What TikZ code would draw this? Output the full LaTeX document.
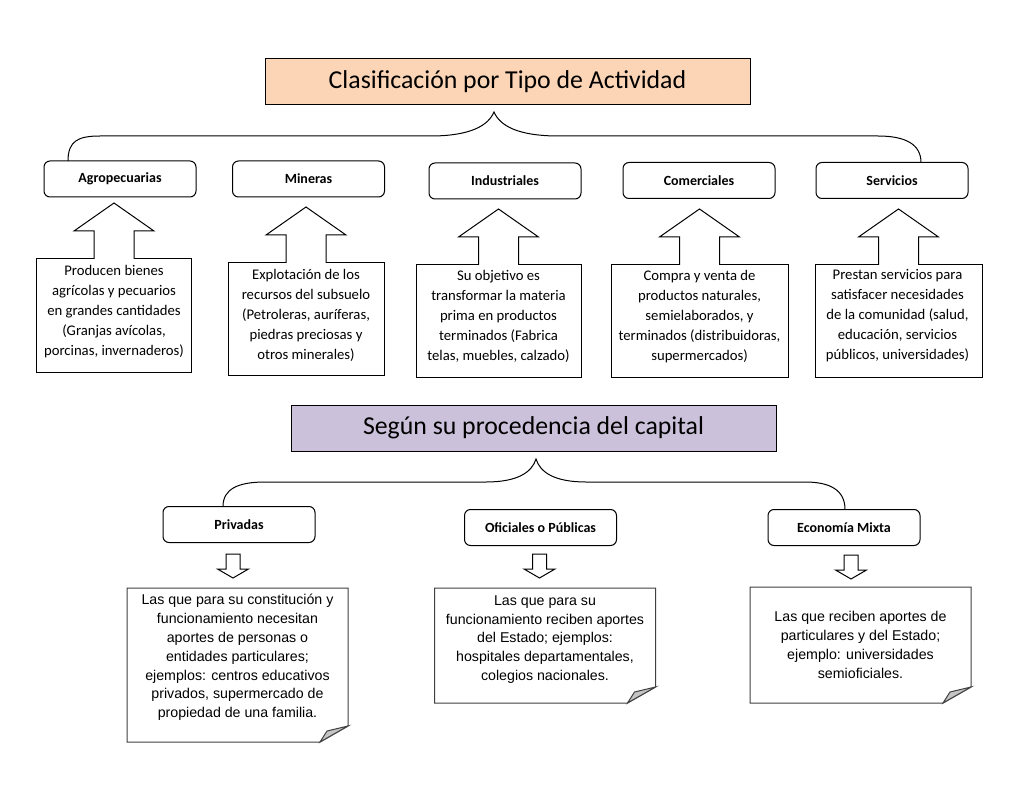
\documentclass[tikz,border=0pt]{standalone}
\usepackage{fontspec}
\setmainfont{Carlito}
\newfontfamily\arialf{Liberation Sans}
\usetikzlibrary{calc}
\definecolor{peach}{HTML}{FBD5B5}
\definecolor{lavender}{HTML}{CCC1DA}
\definecolor{foldgray}{HTML}{C4C4C4}
\newcommand\myuparrow[1]{%
  \draw[blk] ($(#1.north)+(20,0)$) -- ++(0,-28) -- ++(20,0) -- ++(-40,-28) -- ++(-40,28) -- ++(20,0) -- ++(0,28);}
\newcommand\mydownarrow[1]{%
  \draw[blk] (#1) ++(-7,0) -- ++(14,0) -- ++(0,15) -- ++(8.5,0) -- ++(-15.5,9) -- ++(-15.5,-9) -- ++(8.5,0) -- cycle;}
\newcommand\mynote[1]{%
  \draw[noteline] (#1.north west) -- (#1.north east) -- ($(#1.south east)+(0,-16)$) -- ($(#1.south east)+(-28,0)$) -- (#1.south west) -- cycle;
  \filldraw[noteline, fill=foldgray] ($(#1.south east)+(0,-16)$) -- ($(#1.south east)+(-21,-11)$) -- ($(#1.south east)+(-28,0)$) -- cycle;}
\begin{document}
\begin{tikzpicture}[x=1pt,y=-1pt,
  every node/.style={inner sep=0pt, outer sep=0pt},
  titlebox/.style={draw=black, line width=1pt, minimum width=485pt, minimum height=46pt, font=\fontsize{25.8}{29}\selectfont},
  catbox/.style={draw=black, line width=1pt, rounded corners=6pt, minimum width=152pt, minimum height=36pt, font=\fontsize{14}{16}\selectfont\bfseries},
  descbox/.style={draw=black, line width=1pt},
  desctext/.style={align=center, font=\fontsize{14.7}{20}\selectfont},
  notebox/.style={minimum width=221pt},
  notetext/.style={align=center, font=\arialf\fontsize{14.2}{18.8}\selectfont},
  noteline/.style={draw=black!75, line width=1pt, line join=miter},
  blk/.style={draw=black, line width=1pt, fill=white, line join=miter},
  brace/.style={draw=black, line width=1pt},
]
\useasboundingbox (0,0) rectangle (1024,791);
\fill[white] (0,0) rectangle (1024,791);

% ---------- first section ----------
\node[titlebox, fill=peach] (t1) at (507.5,82) {Clasificación por Tipo de Actividad};

\node[catbox] (agro) at (120,179) {Agropecuarias};
\node[catbox] (mine) at (308.5,179) {Mineras};
\node[catbox] (indu) at (505,181) {Industriales};
\node[catbox] (come) at (699,180.5) {Comerciales};
\node[catbox] (serv) at (892,180.5) {Servicios};

\coordinate (b1l) at ($(agro.north west)+(24,0)$);
\coordinate (b1r) at ($(serv.north east)+(-47,0)$);
\coordinate (b1t) at ($(t1.south)+(-13.5,7)$);
\draw[brace] (b1l) .. controls (68,141) and (78,136) .. (100,136) -- (433,136)
  .. controls (470,135.5) and (488,126) .. (b1t)
  .. controls (500,126) and (518,135.5) .. (556,136) -- (878,136)
  .. controls (905,136) and (921,144) .. (b1r);

\node[descbox, minimum width=155pt, minimum height=113pt] (dagro) at (114,315.5) {};
\node[descbox, minimum width=156pt, minimum height=112pt] (dmine) at (306,319) {};
\node[descbox, minimum width=165pt, minimum height=112pt] (dindu) at (498.5,321) {};
\node[descbox, minimum width=177pt, minimum height=112pt] (dcome) at (699.5,321) {};
\node[descbox, minimum width=167pt, minimum height=112pt] (dserv) at (898.5,321) {};

\node[desctext] (tagro) at ($(dagro)+(0,-4)$) {Producen bienes\\agrícolas y pecuarios\\en grandes cantidades\\(Granjas avícolas,\\porcinas, invernaderos)};
\node[desctext] (tmine) at ($(dmine)+(0,-4)$) {Explotación de los\\recursos del subsuelo\\(Petroleras, auríferas,\\piedras preciosas y\\otros minerales)};
\node[desctext] (tindu) at ($(dindu)+(0,-5)$) {Su objetivo es\\transformar la materia\\prima en productos\\terminados (Fabrica\\telas, muebles, calzado)};
\node[desctext] (tcome) at ($(dcome)+(0,-4)$) {Compra y venta de\\productos naturales,\\semielaborados, y\\terminados (distribuidoras,\\supermercados)};
\node[desctext] (tserv) at ($(dserv)+(-1,-5)$) {Prestan servicios para\\satisfacer necesidades\\de la comunidad (salud,\\educación, servicios\\públicos, universidades)};

\myuparrow{dagro}
\myuparrow{dmine}
\myuparrow{dindu}
\myuparrow{dcome}
\myuparrow{dserv}

% ---------- second section ----------
\node[titlebox, fill=lavender] (t2) at (533.5,428) {Según su procedencia del capital};

\node[catbox] (priv) at (239,524.5) {Privadas};
\node[catbox] (ofic) at (540.5,527.5) {Oficiales o Públicas};
\node[catbox] (econ) at (844,527.5) {Economía Mixta};

\coordinate (b2l) at ($(priv.north west)+(60,0)$);
\coordinate (b2r) at ($(econ.north east)+(-75,0)$);
\coordinate (b2t) at ($(t2.south)+(2.5,8)$);
\draw[brace] (b2l) .. controls (223,489) and (238,482) .. (265,482) -- (486,482)
  .. controls (518,482) and (532,472) .. (b2t)
  .. controls (540,472) and (554,482) .. (586,482) -- (805,482)
  .. controls (830,482) and (845,490) .. (b2r);

\coordinate (apriv) at (233,554);
\coordinate (aofic) at (539.5,554);
\coordinate (aecon) at (851,555);
\mydownarrow{apriv}
\mydownarrow{aofic}
\mydownarrow{aecon}

\node[notebox, minimum height=154pt] (npriv) at (237.5,665) {};
\node[notebox, minimum width=221pt, minimum height=115pt] (nofic) at (545,645.5) {};
\node[notebox, minimum height=116pt] (necon) at (860.5,645) {};
\mynote{npriv}
\mynote{nofic}
\mynote{necon}

\node[notetext] (tpriv) at (237.5,657.5) {Las que para su constitución y\\funcionamiento necesitan\\aportes de personas o\\entidades particulares;\\ejemplos: centros educativos\\privados, supermercado de\\propiedad de una familia.};
\node[notetext] (tofic) at (545,639.5) {Las que para su\\funcionamiento reciben aportes\\del Estado; ejemplos:\\hospitales departamentales,\\colegios nacionales.};
\node[notetext] (tecon) at (860.5,645) {Las que reciben aportes de\\particulares y del Estado;\\ejemplo: universidades\\semioficiales.};
\end{tikzpicture}
\end{document}
